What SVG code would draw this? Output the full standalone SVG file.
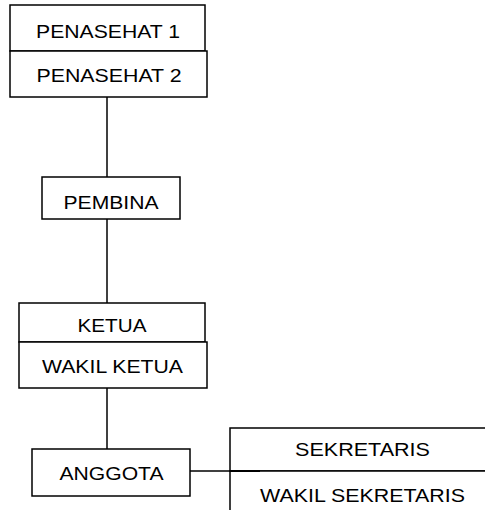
<svg xmlns="http://www.w3.org/2000/svg" width="485" height="510" viewBox="0 0 485 510">
<style>
rect{fill:#fff;stroke:#000;stroke-width:1.5}
line{stroke:#000;stroke-width:1.5}
text{font-family:"Liberation Sans",Arial,sans-serif;font-size:19px;fill:#000;text-anchor:middle}
</style>
<rect x="0" y="0" width="485" height="510" style="stroke:none"/>
<g id="connectors">
<line x1="107" y1="97" x2="107" y2="178"/>
<line x1="107" y1="219" x2="107" y2="303"/>
<line x1="107" y1="388" x2="107" y2="449"/>
<line x1="190" y1="471" x2="260" y2="471"/>
</g>
<g id="penasehat1"><rect x="10" y="5" width="195" height="46"/><text x="108" y="37.5" textLength="144" lengthAdjust="spacingAndGlyphs">PENASEHAT 1</text></g>
<g id="penasehat2"><rect x="10" y="51" width="197" height="46"/><text x="109" y="82" textLength="145" lengthAdjust="spacingAndGlyphs">PENASEHAT 2</text></g>
<g id="pembina"><rect x="42" y="177" width="138" height="42"/><text x="111" y="208.5" textLength="95" lengthAdjust="spacingAndGlyphs">PEMBINA</text></g>
<g id="ketua"><rect x="19" y="303" width="186" height="39"/><text x="112" y="332" textLength="69" lengthAdjust="spacingAndGlyphs">KETUA</text></g>
<g id="wakil-ketua"><rect x="19" y="342" width="188" height="46"/><text x="112.5" y="372.5" textLength="141" lengthAdjust="spacingAndGlyphs">WAKIL KETUA</text></g>
<g id="anggota"><rect x="32" y="449" width="158" height="47"/><text x="111.5" y="479.5" textLength="104" lengthAdjust="spacingAndGlyphs">ANGGOTA</text></g>
<g id="sekretaris"><rect x="230" y="428" width="270" height="43"/><text x="362.5" y="456" textLength="135" lengthAdjust="spacingAndGlyphs">SEKRETARIS</text></g>
<g id="wakil-sekretaris"><rect x="230" y="471" width="270" height="50"/><text x="362.5" y="502" textLength="205" lengthAdjust="spacingAndGlyphs">WAKIL SEKRETARIS</text></g>
<line x1="230" y1="471" x2="260" y2="471" style="stroke-width:2"/>
</svg>
